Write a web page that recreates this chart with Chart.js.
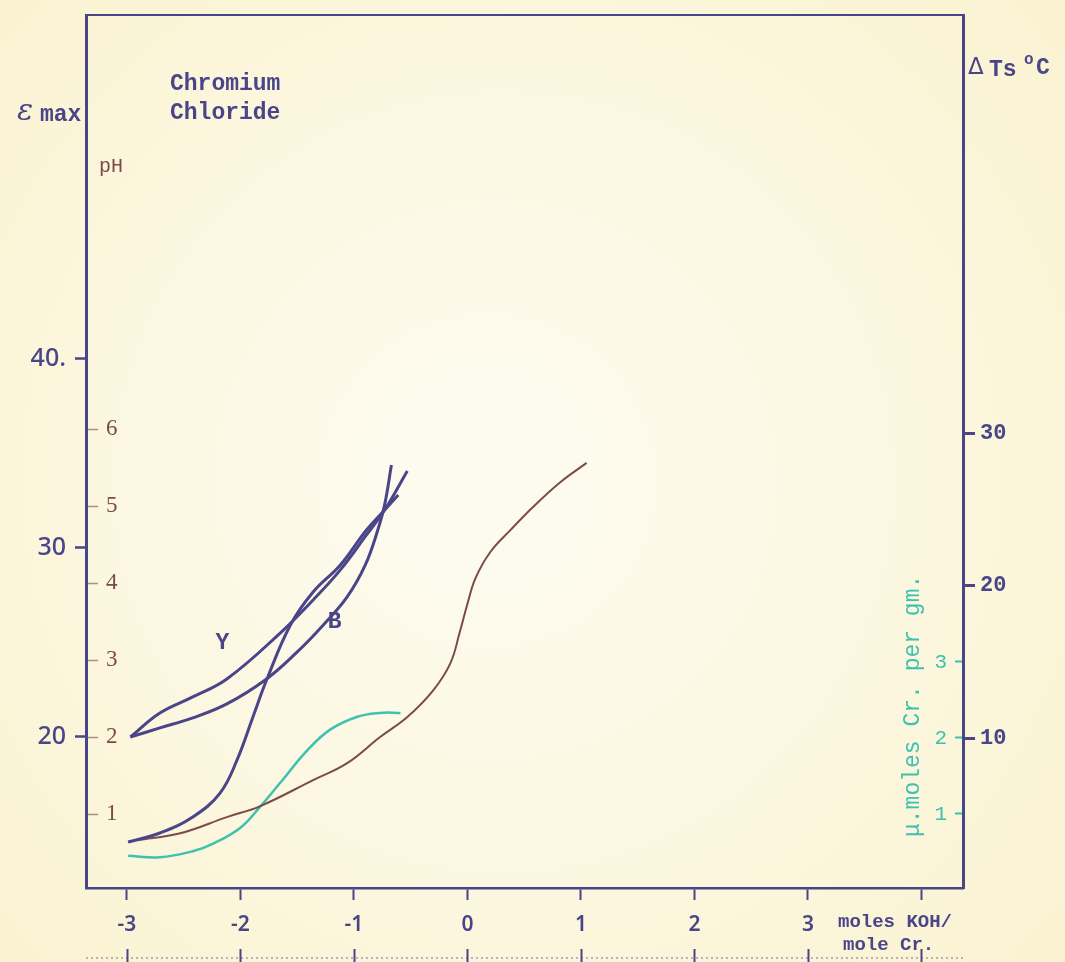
<!DOCTYPE html>
<html>
<head>
<meta charset="utf-8">
<script src="https://cdn.jsdelivr.net/npm/chart.js@4"></script>
<style>
  html, body { margin: 0; padding: 0; background: #fcf8e2; }
  canvas { display: block; }
</style>
</head>
<body>
<canvas id="chart" width="1065" height="962"></canvas>
<script>
// Chromium chloride titrated with KOH: moles KOH per mole Cr on the x axis
// (negative values = excess acid).

// ε max, yellow band (Y)
const yBandKoh = [-2.97, -2.71, -2.42, -2.12, -1.65, -1.36, -1.12, -0.89, -0.73, -0.53];
const yBandEps = [20.0, 21.27, 22.12, 23.07, 25.50, 27.25, 28.84, 30.69, 32.01, 34.07];

// ε max, blue band (B)
const bBandKoh = [-2.97, -2.71, -2.42, -2.12, -1.77, -1.50, -1.27, -1.06, -0.90, -0.79, -0.73, -0.67];
const bBandEps = [20.0, 20.48, 21.01, 21.75, 23.07, 24.50, 25.93, 27.41, 29.10, 30.95, 32.28, 34.39];

// shrinkage temperature rise ΔTs °C
const tsKoh = [-2.99, -2.71, -2.42, -2.18, -2.03, -1.89, -1.77, -1.56, -1.36, -1.12, -0.89, -0.73, -0.61];
const tsRise = [3.18, 3.77, 4.82, 6.39, 8.56, 11.38, 13.80, 17.41, 19.57, 21.34, 23.64, 24.95, 25.93];

// pH
const phKoh = [-2.91, -2.53, -2.12, -1.83, -1.36, -1.06, -0.77, -0.53, -0.30, -0.15, -0.07, 0.00, 0.07, 0.20, 0.38, 0.58, 0.81, 1.05];
const phValue = [0.66, 0.75, 0.96, 1.10, 1.44, 1.66, 2.00, 2.26, 2.61, 2.96, 3.35, 3.73, 4.06, 4.40, 4.69, 4.99, 5.30, 5.56];

// μ.moles Cr fixed per gm
const crKoh = [-2.99, -2.71, -2.42, -2.24, -2.00, -1.83, -1.65, -1.41, -1.21, -0.97, -0.77, -0.59];
const crFixed = [0.45, 0.43, 0.51, 0.61, 0.82, 1.09, 1.41, 1.84, 2.11, 2.28, 2.33, 2.33];

// tick values and labels
const kohTicks = [-3, -2, -1, 0, 1, 2, 3, 4];
const kohTickLabels = ['-3', '-2', '-1', '0', '1', '2', '3', ''];
const epsTicks = [20, 30, 40];
const epsTickLabels = ['20', '30', '40.'];
const phTicks = [1, 2, 3, 4, 5, 6];
const tsTicks = [10, 20, 30];
const crTicks = [1, 2, 3];

const INK = '#4a4589';
const BROWN = '#7c4b47';
const TEAL = '#3ec1b1';
const TYPE = '"Liberation Mono", "DejaVu Sans Mono", monospace';

const pts = (xs, ys) => xs.map((x, i) => ({ x, y: ys[i] }));
const fixedTicks = (vals) => (scale) => { scale.ticks = vals.map(v => ({ value: v })); };
const labelFrom = (vals, labels) => (v) => { const i = vals.indexOf(v); return i < 0 ? '' : labels[i]; };
const fitV = (w) => (s) => { s.width = w; s.paddingTop = 0; s.paddingBottom = 0; };
const fitH = (h) => (s) => { s.height = h; s.paddingLeft = 0; s.paddingRight = 0; };

const paper = {
  id: 'paper',
  beforeDraw(chart) {
    const { ctx, width, height } = chart;
    const g = ctx.createRadialGradient(width * 0.45, height * 0.5, 80, width * 0.5, height * 0.5, 760);
    g.addColorStop(0, '#fdfbee');
    g.addColorStop(1, '#faf2cf');
    ctx.save();
    ctx.fillStyle = g;
    ctx.fillRect(0, 0, width, height);
    ctx.restore();
  }
};

const notes = {
  id: 'notes',
  afterDraw(chart) {
    const { ctx, scales } = chart;
    const x = scales.x, eps = scales.eps;
    ctx.save();
    ctx.textBaseline = 'middle';

    // title
    ctx.fillStyle = INK;
    ctx.font = 'bold 23px ' + TYPE;
    ctx.textAlign = 'left';
    ctx.fillText('Chromium', 170, 84);
    ctx.fillText('Chloride', 170, 113);

    // left axis names
    ctx.font = 'italic 30px "DejaVu Serif", serif';
    ctx.fillText('ε', 17, 112);
    ctx.font = 'bold 23px ' + TYPE;
    ctx.fillText('max', 40, 115);

    ctx.fillStyle = BROWN;
    ctx.font = '20px ' + TYPE;
    ctx.fillText('pH', 99, 167);

    // right axis name
    ctx.fillStyle = INK;
    ctx.font = '23px "DejaVu Sans", sans-serif';
    ctx.fillText('Δ', 968, 68);
    ctx.font = 'bold 23px ' + TYPE;
    ctx.fillText('Ts', 989, 70);
    ctx.font = 'bold 16px ' + TYPE;
    ctx.fillText('o', 1024, 60);
    ctx.font = 'bold 23px ' + TYPE;
    ctx.fillText('C', 1036, 68);

    // curve letters
    ctx.font = 'bold 23px ' + TYPE;
    ctx.textAlign = 'center';
    ctx.fillText('Y', x.getPixelForValue(-2.16), eps.getPixelForValue(24.97));
    ctx.fillText('B', x.getPixelForValue(-1.17), eps.getPixelForValue(26.08));

    // x axis unit
    ctx.textAlign = 'left';
    ctx.font = 'bold 19px ' + TYPE;
    ctx.fillText('moles KOH/', 838, 922);
    ctx.fillText('mole Cr.', 843, 945);

    // teal axis name, reading upward
    ctx.save();
    ctx.translate(913, 837);
    ctx.rotate(-Math.PI / 2);
    ctx.fillStyle = TEAL;
    ctx.font = '23px ' + TYPE;
    ctx.textAlign = 'left';
    ctx.fillText('μ.moles Cr. per gm.', 0, 0);
    ctx.restore();

    // second ruler along the bottom edge
    ctx.strokeStyle = 'rgba(74,69,137,0.5)';
    ctx.lineWidth = 1.5;
    ctx.setLineDash([2, 3]);
    ctx.beginPath();
    ctx.moveTo(86, 958);
    ctx.lineTo(965, 958);
    ctx.stroke();
    ctx.setLineDash([]);
    ctx.lineWidth = 2;
    ctx.strokeStyle = INK;
    kohTicks.forEach(v => {
      const px = Math.round(x.getPixelForValue(v)) + 0.5;
      ctx.beginPath();
      ctx.moveTo(px, 949);
      ctx.lineTo(px, 962);
      ctx.stroke();
    });
    ctx.restore();
  }
};

const curve = (label, data, axis, color, width) => ({
  label, data, yAxisID: axis, borderColor: color, borderWidth: width,
  pointRadius: 0, fill: false, tension: 0.4
});

new Chart(document.getElementById('chart'), {
  type: 'line',
  data: {
    datasets: [
      curve('Y', pts(yBandKoh, yBandEps), 'eps', INK, 3),
      curve('B', pts(bBandKoh, bBandEps), 'eps', INK, 3),
      curve('ΔTs', pts(tsKoh, tsRise), 'ts', INK, 3),
      curve('pH', pts(phKoh, phValue), 'ph', BROWN, 2),
      curve('Cr', pts(crKoh, crFixed), 'cr', TEAL, 2.5)
    ]
  },
  options: {
    responsive: false,
    animation: false,
    events: [],
    layout: { padding: 0, autoPadding: false },
    plugins: { legend: { display: false }, tooltip: { enabled: false } },
    scales: {
      x: {
        type: 'linear', position: 'bottom', min: -3.361, max: 4.366,
        afterBuildTicks: fixedTicks(kohTicks),
        afterFit: fitH(74),
        grid: { drawOnChartArea: false, drawTicks: true, tickLength: 12, tickWidth: 2, tickColor: INK },
        border: { display: true, color: INK, width: 2.5 },
        ticks: {
          padding: 12, color: INK, maxRotation: 0, autoSkip: false,
          font: { family: '"Noto Sans", sans-serif', size: 21, weight: '600' },
          callback: labelFrom(kohTicks, kohTickLabels)
        }
      },
      top: {
        type: 'linear', position: 'top', min: -3.361, max: 4.366,
        afterFit: fitH(15),
        grid: { display: false },
        border: { display: true, color: INK, width: 2 },
        ticks: { display: false }
      },
      eps: {
        type: 'linear', position: 'left', weight: 2, min: 12.01, max: 58.2,
        afterBuildTicks: fixedTicks(epsTicks),
        afterFit: fitV(86),
        grid: { drawOnChartArea: false, drawTicks: true, tickLength: 11, tickWidth: 2.5, tickColor: INK },
        border: { display: true, color: INK, width: 3 },
        ticks: {
          padding: 9, color: INK,
          font: { family: '"Noto Sans", sans-serif', size: 25, weight: '500' },
          callback: labelFrom(epsTicks, epsTickLabels)
        }
      },
      ph: {
        type: 'linear', position: 'left', weight: 1, min: 0.039, max: 11.377,
        afterBuildTicks: fixedTicks(phTicks),
        afterFit: fitV(0),
        grid: { drawOnChartArea: false, drawTicks: true, tickLength: -12, tickWidth: 1.5, tickColor: 'rgba(124,75,71,0.6)' },
        border: { display: false },
        ticks: {
          mirror: true, padding: 20, color: BROWN,
          font: { family: '"Liberation Serif", serif', size: 23 }
        }
      },
      ts: {
        type: 'linear', position: 'right', weight: 2, min: 0.164, max: 57.41,
        afterBuildTicks: fixedTicks(tsTicks),
        afterFit: fitV(102),
        grid: { drawOnChartArea: false, drawTicks: true, tickLength: 12, tickWidth: 3, tickColor: INK },
        border: { display: true, color: INK, width: 3 },
        ticks: {
          padding: 5, color: INK,
          font: { family: TYPE, size: 22, weight: 'bold' }
        }
      },
      cr: {
        type: 'linear', position: 'right', weight: 1, min: 0.026, max: 11.513,
        afterBuildTicks: fixedTicks(crTicks),
        afterFit: fitV(0),
        grid: { drawOnChartArea: false, drawTicks: true, tickLength: -8, tickWidth: 2, tickColor: TEAL },
        border: { display: false },
        ticks: {
          mirror: true, padding: -16, color: TEAL,
          font: { family: TYPE, size: 21 }
        }
      }
    }
  },
  plugins: [paper, notes]
});
</script>
</body>
</html>
